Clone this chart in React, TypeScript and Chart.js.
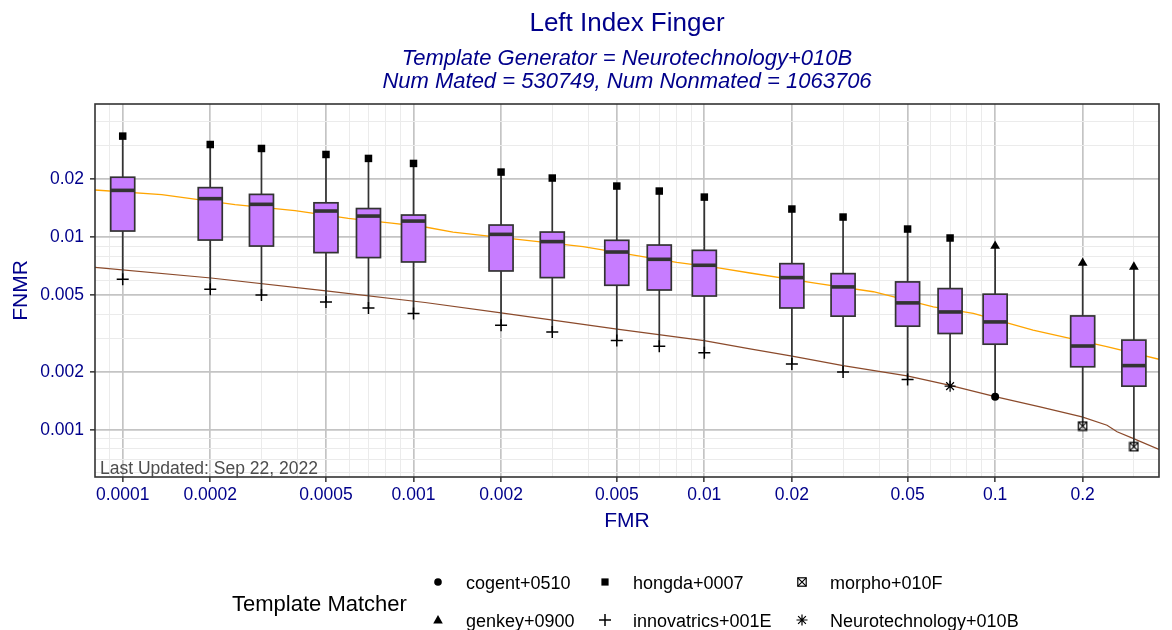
import React, { useEffect, useRef } from "react";
import { Chart, registerables } from "chart.js";
Chart.register(...registerables);

// ---------- data ----------
const fmrLevels = [0.0001, 0.0002, 0.0003, 0.0005, 0.0007, 0.001, 0.002, 0.003, 0.005, 0.007, 0.01, 0.02, 0.03, 0.05, 0.07, 0.1, 0.2, 0.3];
const boxQ3 = [0.0205, 0.0181, 0.0167, 0.0151, 0.0141, 0.01305, 0.01158, 0.01065, 0.00965, 0.00912, 0.00856, 0.0073, 0.00648, 0.00587, 0.00542, 0.00507, 0.00391, 0.00293];
const boxMedian = [0.01752, 0.01587, 0.01483, 0.01369, 0.01289, 0.01214, 0.01036, 0.0095, 0.00839, 0.00769, 0.00716, 0.00618, 0.00553, 0.00457, 0.0041, 0.00364, 0.00273, 0.00216];
const boxQ1 = [0.01078, 0.00968, 0.00901, 0.00833, 0.00785, 0.00745, 0.00669, 0.00618, 0.00564, 0.00533, 0.00496, 0.0043, 0.0039, 0.00346, 0.00317, 0.00279, 0.00213, 0.00169];

const hongdaFmr = [0.0001, 0.0002, 0.0003, 0.0005, 0.0007, 0.001, 0.002, 0.003, 0.005, 0.007, 0.01, 0.02, 0.03, 0.05, 0.07];
const hongdaFnmr = [0.0335, 0.0303, 0.0289, 0.0269, 0.02566, 0.02417, 0.0218, 0.0203, 0.01845, 0.01738, 0.01617, 0.01402, 0.01274, 0.01104, 0.00992];
const genkeyFmr = [0.1, 0.2, 0.3];
const genkeyFnmr = [0.00901, 0.00736, 0.00702];
const innovatricsFmr = [0.0001, 0.0002, 0.0003, 0.0005, 0.0007, 0.001, 0.002, 0.003, 0.005, 0.007, 0.01, 0.02, 0.03, 0.05];
const innovatricsFnmr = [0.00606, 0.00538, 0.00502, 0.00462, 0.0043, 0.00402, 0.0035, 0.00323, 0.00292, 0.00272, 0.00252, 0.0022, 0.002, 0.00183];
const neuroFmr = [0.07];
const neuroFnmr = [0.00169];
const cogentFmr = [0.1];
const cogentFnmr = [0.00149];
const morphoFmr = [0.2, 0.3];
const morphoFnmr = [0.00105, 0.00082];

const orangeFmr = [8.03e-5, 1.362e-4, 2.433e-4, 3.913e-4, 5.97e-4, 8.41e-4, 1.096e-3, 1.367e-3, 2.324e-3, 3.828e-3, 5.855e-3, 8.04e-3, 1.132e-2, 1.436e-2, 2.435e-2, 3.811e-2, 6.13e-2, 8.414e-2, 0.135, 0.242, 0.366];
const orangeFnmr = [0.0176, 0.01664, 0.01476, 0.01374, 0.01255, 0.01186, 0.01131, 0.01065, 0.00972, 0.00894, 0.00803, 0.00742, 0.00693, 0.00653, 0.00577, 0.00522, 0.00436, 0.00403, 0.0033, 0.00271, 0.00233];
const brownFmr = [8.03e-5, 2.012e-4, 5.003e-4, 1.096e-3, 2.0e-3, 5.01e-3, 9.98e-3, 1.436e-2, 2.003e-2, 3.0e-2, 4.98e-2, 6.94e-2, 0.1, 0.1427, 0.199, 0.2425, 0.2626, 0.2979, 0.366];
const brownFnmr = [0.00699, 0.00615, 0.00528, 0.00459, 0.00406, 0.00334, 0.00291, 0.00264, 0.00242, 0.00216, 0.00191, 0.00171, 0.00149, 0.00132, 0.00117, 0.00106, 0.00098, 0.000906, 0.000794];

const xTickValues = [0.00009, 0.0001, 0.0002, 0.0003, 0.0004, 0.0005, 0.0006, 0.0007, 0.0008, 0.0009, 0.001, 0.002, 0.003, 0.004, 0.005, 0.006, 0.007, 0.008, 0.009, 0.01, 0.02, 0.03, 0.04, 0.05, 0.06, 0.07, 0.08, 0.09, 0.1, 0.2, 0.3];
const xTickLabels = ["0.0001", "0.0002", "0.0005", "0.001", "0.002", "0.005", "0.01", "0.02", "0.05", "0.1", "0.2"];
const yTickValues = [0.0006, 0.0007, 0.0008, 0.0009, 0.001, 0.002, 0.003, 0.004, 0.005, 0.006, 0.007, 0.008, 0.009, 0.01, 0.02, 0.03, 0.04];
const yTickLabels = ["0.001", "0.002", "0.005", "0.01", "0.02"];

const legendNames = ["cogent+0510", "genkey+0900", "hongda+0007", "innovatrics+001E", "morpho+010F", "Neurotechnology+010B"];

const NAVY = "#00008B";
const FONT = "'Liberation Sans', Arial, Helvetica, sans-serif";

function makeMorphoIcon(): HTMLCanvasElement {
  const c = document.createElement("canvas");
  c.width = 11;
  c.height = 11;
  const g = c.getContext("2d")!;
  drawMorpho(g, 5.5, 5.5, 4.2);
  return c;
}

function drawMorpho(g: CanvasRenderingContext2D, x: number, y: number, h: number) {
  g.save();
  g.strokeStyle = "#000";
  g.lineWidth = 1.2;
  g.strokeRect(x - h, y - h, 2 * h, 2 * h);
  g.beginPath();
  g.moveTo(x - h, y - h);
  g.lineTo(x + h, y + h);
  g.moveTo(x + h, y - h);
  g.lineTo(x - h, y + h);
  g.stroke();
  g.restore();
}

function drawSymbol(g: CanvasRenderingContext2D, kind: string, x: number, y: number) {
  g.save();
  g.fillStyle = "#000";
  g.strokeStyle = "#000";
  g.lineWidth = 1.5;
  if (kind === "circle") {
    g.beginPath();
    g.arc(x, y, 3.8, 0, Math.PI * 2);
    g.fill();
  } else if (kind === "square") {
    g.fillRect(x - 3.6, y - 3.6, 7.2, 7.2);
  } else if (kind === "triangle") {
    g.beginPath();
    g.moveTo(x, y - 5);
    g.lineTo(x + 4.8, y + 3.5);
    g.lineTo(x - 4.8, y + 3.5);
    g.closePath();
    g.fill();
  } else if (kind === "plus") {
    g.beginPath();
    g.moveTo(x - 6, y);
    g.lineTo(x + 6, y);
    g.moveTo(x, y - 6);
    g.lineTo(x, y + 6);
    g.stroke();
  } else if (kind === "morpho") {
    drawMorpho(g, x, y, 4.2);
  } else if (kind === "star") {
    g.lineWidth = 1.2;
    g.beginPath();
    const r = 5.5;
    for (let k = 0; k < 4; k++) {
      const a = (k * Math.PI) / 4;
      g.moveTo(x - r * Math.cos(a), y - r * Math.sin(a));
      g.lineTo(x + r * Math.cos(a), y + r * Math.sin(a));
    }
    g.stroke();
  }
  g.restore();
}

const matcherSeries = [
  { fmr: hongdaFmr, fnmr: hongdaFnmr },
  { fmr: genkeyFmr, fnmr: genkeyFnmr },
  { fmr: innovatricsFmr, fnmr: innovatricsFnmr },
  { fmr: neuroFmr, fnmr: neuroFnmr },
  { fmr: cogentFmr, fnmr: cogentFnmr },
  { fmr: morphoFmr, fnmr: morphoFnmr },
];

const boxPlugin = {
  id: "boxes",
  afterDatasetDraw(chart: any, args: any) {
    if (args.index !== 1) return;
    const { ctx, chartArea } = chart;
    const xs = chart.scales.x;
    const ys = chart.scales.y;
    ctx.save();
    ctx.beginPath();
    ctx.rect(chartArea.left, chartArea.top, chartArea.right - chartArea.left, chartArea.bottom - chartArea.top);
    ctx.clip();
    const half = 12;
    fmrLevels.forEach((f, i) => {
      const vals: number[] = [];
      matcherSeries.forEach((m) => m.fmr.forEach((v, j) => { if (v === f) vals.push(m.fnmr[j]); }));
      const hi = Math.max(...vals);
      const lo = Math.min(...vals);
      const x = xs.getPixelForValue(f);
      const pHi = ys.getPixelForValue(hi);
      const pLo = ys.getPixelForValue(lo);
      const p3 = ys.getPixelForValue(boxQ3[i]);
      const p1 = ys.getPixelForValue(boxQ1[i]);
      const pm = ys.getPixelForValue(boxMedian[i]);
      ctx.strokeStyle = "#333333";
      ctx.lineWidth = 1.7;
      ctx.beginPath();
      ctx.moveTo(x, pHi);
      ctx.lineTo(x, p3);
      ctx.moveTo(x, p1);
      ctx.lineTo(x, pLo);
      ctx.stroke();
      ctx.fillStyle = "#C77CFF";
      ctx.fillRect(x - half, p3, 2 * half, p1 - p3);
      ctx.strokeRect(x - half, p3, 2 * half, p1 - p3);
      ctx.lineWidth = 3.6;
      ctx.beginPath();
      ctx.moveTo(x - half, pm);
      ctx.lineTo(x + half, pm);
      ctx.stroke();
    });
    ctx.restore();
  },
};

const decorPlugin = {
  id: "decor",
  afterDraw(chart: any) {
    const { ctx, chartArea } = chart;
    const cx = (chartArea.left + chartArea.right) / 2;
    ctx.save();
    // panel border
    ctx.strokeStyle = "#333333";
    ctx.lineWidth = 1.6;
    ctx.strokeRect(chartArea.left, chartArea.top, chartArea.right - chartArea.left, chartArea.bottom - chartArea.top);
    // titles
    ctx.fillStyle = NAVY;
    ctx.textAlign = "center";
    ctx.textBaseline = "alphabetic";
    ctx.font = `26px ${FONT}`;
    ctx.fillText("Left Index Finger", cx, 31);
    ctx.font = `italic 22px ${FONT}`;
    ctx.fillText("Template Generator = Neurotechnology+010B", cx, 65);
    ctx.fillText("Num Mated = 530749, Num Nonmated = 1063706", cx, 88);
    // last updated
    ctx.fillStyle = "#4D4D4D";
    ctx.textAlign = "left";
    ctx.font = `17.5px ${FONT}`;
    ctx.fillText("Last Updated: Sep 22, 2022", chartArea.left + 5, chartArea.bottom - 3);
    // legend
    ctx.fillStyle = "#000";
    ctx.font = `22px ${FONT}`;
    ctx.fillText("Template Matcher", 232, 611);
    ctx.font = `18px ${FONT}`;
    const symbols = ["circle", "triangle", "square", "plus", "morpho", "star"];
    const colX = [438, 605, 802];
    const rowY = [582, 620];
    legendNames.forEach((name, k) => {
      const col = Math.floor(k / 2);
      const row = k % 2;
      drawSymbol(ctx, symbols[k], colX[col], rowY[row]);
      ctx.fillStyle = "#000";
      ctx.fillText(name, colX[col] + 28, rowY[row] + 6.5);
    });
    ctx.restore();
  },
};

export default function App() {
  const ref = useRef<HTMLCanvasElement | null>(null);
  useEffect(() => {
    document.body.style.margin = "0";
    const canvas = ref.current!;
    const morphoIcon = makeMorphoIcon();
    const pts = (xa: number[], ya: number[]) => xa.map((x, i) => ({ x, y: ya[i] }));
    const gridOpts = (labels: string[]) => ({
      color: (c: any) => (c.tick && labels.includes(String(c.tick.value)) ? "#C4C4C4" : "#EBEBEB"),
      lineWidth: (c: any) => (c.tick && labels.includes(String(c.tick.value)) ? 1.7 : 1),
      tickColor: (c: any) => (c.tick && labels.includes(String(c.tick.value)) ? "#333333" : "rgba(0,0,0,0)"),
      tickWidth: 1.5,
      tickLength: 5,
      drawTicks: true,
    });
    const chart = new Chart(canvas, {
      type: "scatter",
      data: {
        datasets: [
          { type: "line", label: "orange", data: pts(orangeFmr, orangeFnmr), borderColor: "#FFA500", borderWidth: 1.3, pointRadius: 0, order: 12, fill: false, tension: 0 } as any,
          { type: "line", label: "brown", data: pts(brownFmr, brownFnmr), borderColor: "#8B4A2B", borderWidth: 1.2, pointRadius: 0, order: 11, fill: false, tension: 0 } as any,
          { label: "hongda+0007", data: pts(hongdaFmr, hongdaFnmr), pointStyle: "rect", pointRadius: 5.3, backgroundColor: "#000", borderColor: "#000", borderWidth: 0, order: 0 },
          { label: "genkey+0900", data: pts(genkeyFmr, genkeyFnmr), pointStyle: "triangle", pointRadius: 5.6, backgroundColor: "#000", borderColor: "#000", borderWidth: 0, order: 0 },
          { label: "innovatrics+001E", data: pts(innovatricsFmr, innovatricsFnmr), pointStyle: "cross", pointRadius: 6, backgroundColor: "#000", borderColor: "#000", borderWidth: 1.5, order: 0 },
          { label: "Neurotechnology+010B", data: pts(neuroFmr, neuroFnmr), pointStyle: "star", pointRadius: 5.5, backgroundColor: "#000", borderColor: "#000", borderWidth: 1.2, order: 0 },
          { label: "cogent+0510", data: pts(cogentFmr, cogentFnmr), pointStyle: "circle", pointRadius: 4, backgroundColor: "#000", borderColor: "#000", borderWidth: 0, order: 0 },
          { label: "morpho+010F", data: pts(morphoFmr, morphoFnmr), pointStyle: morphoIcon, pointRadius: 5, backgroundColor: "#000", borderColor: "#000", order: 0 },
        ] as any,
      },
      options: {
        animation: false,
        responsive: false,
        devicePixelRatio: 1,
        events: [],
        layout: { padding: { top: 104, left: 0, right: 13, bottom: 93 } },
        plugins: { legend: { display: false }, title: { display: false }, tooltip: { enabled: false } },
        scales: {
          x: {
            type: "logarithmic",
            position: "bottom",
            min: 8.03e-5,
            max: 0.366,
            afterBuildTicks: (s: any) => { s.ticks = xTickValues.map((v) => ({ value: v })); },
            afterFit: (s: any) => { s.height = 60; },
            ticks: {
              autoSkip: false,
              maxRotation: 0,
              minRotation: 0,
              padding: 3,
              color: NAVY,
              font: { family: FONT, size: 17.5 },
              callback: (v: any) => (xTickLabels.includes(String(v)) ? String(v) : ""),
            },
            grid: gridOpts(xTickLabels) as any,
            border: { display: false },
            title: { display: true, text: "FMR", color: NAVY, font: { family: FONT, size: 21 }, padding: { top: 0, bottom: 3 } },
          },
          y: {
            type: "logarithmic",
            position: "left",
            min: 0.000571,
            max: 0.04916,
            afterBuildTicks: (s: any) => { s.ticks = yTickValues.map((v) => ({ value: v })); },
            afterFit: (s: any) => { s.width = 95; },
            ticks: {
              autoSkip: false,
              padding: 6,
              color: NAVY,
              font: { family: FONT, size: 17.5 },
              callback: (v: any) => (yTickLabels.includes(String(v)) ? String(v) : ""),
            },
            grid: gridOpts(yTickLabels) as any,
            border: { display: false },
            title: { display: true, text: "FNMR", color: NAVY, font: { family: FONT, size: 21 }, padding: { top: 9, bottom: 0 } },
          },
        },
      } as any,
      plugins: [boxPlugin, decorPlugin],
    });
    return () => chart.destroy();
  }, []);
  return <canvas ref={ref} width={1172} height={630} style={{ display: "block" }} />;
}
